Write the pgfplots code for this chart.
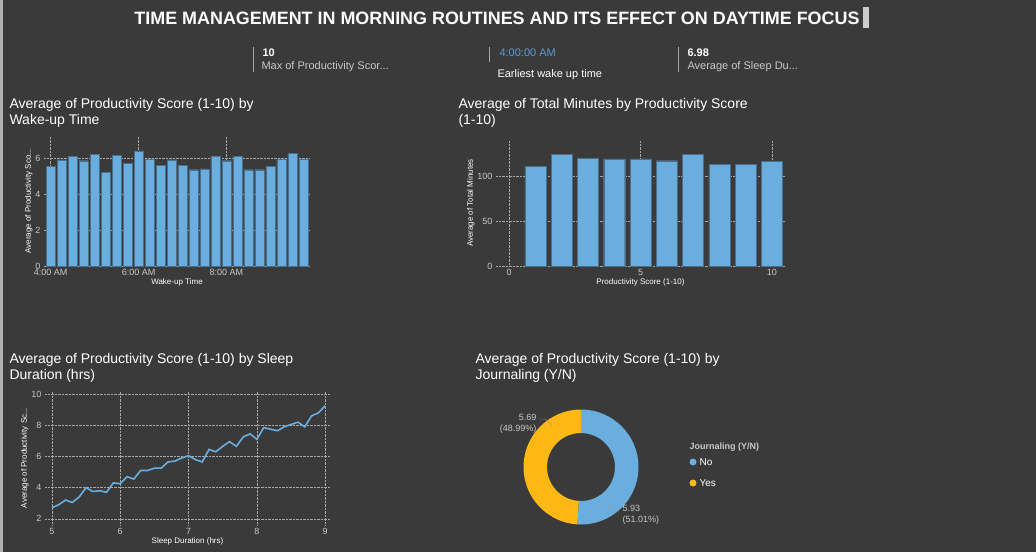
\documentclass[border=0pt]{standalone}
\usepackage{pgfplots}
\pgfplotsset{compat=1.18}
\usepackage{fontspec}
\setmainfont{Liberation Sans}
\definecolor{bg}{HTML}{3A3A3A}
\definecolor{barc}{HTML}{6AAEE0}
\definecolor{edge}{HTML}{4A6F8C}
\definecolor{yel}{HTML}{FDB813}
\definecolor{tick}{HTML}{C8C8C8}
\definecolor{kpi}{HTML}{5B9BD5}
\pgfplotsset{
 dash/.style={
  scale only axis, axis line style={draw=none}, major tick length=0pt,
  tick label style={font=\fontsize{9}{10}\selectfont, text=tick},
  label style={font=\fontsize{8}{9}\selectfont, text=white},
  grid style={densely dotted, draw=gray!70},
  /pgf/number format/assume math mode=true,
  anchor=south west,
 }
}
\begin{document}
\begin{tikzpicture}[x=1pt,y=1pt]
\fill[bg] (0,0) rectangle (1036,-552);
\fill[gray!60] (0,0) rectangle (3,-552);
% title
\node[text=white,font=\bfseries\fontsize{19}{22}\selectfont,anchor=center] at (497,-18) {\resizebox{725pt}{!}{TIME MANAGEMENT IN MORNING ROUTINES AND ITS EFFECT ON DAYTIME FOCUS}};
\fill[gray!40] (863,-7) rectangle (869,-28);
% KPIs
\draw[gray!70] (253,-47) -- (253,-72);
\draw[gray!70] (489,-47) -- (489,-62);
\draw[gray!70] (678,-47) -- (678,-72);
\node[anchor=west,text=white,font=\bfseries\fontsize{11}{12}\selectfont] at (259,-53) {10};
\node[anchor=west,text=tick,font=\fontsize{11}{12}\selectfont] at (258,-67) {Max of Productivity Scor...};
\node[anchor=west,text=kpi,font=\fontsize{11}{12}\selectfont] at (496,-53) {4:00:00 AM};
\node[anchor=west,text=white,font=\fontsize{11}{12}\selectfont] at (494,-75) {Earliest wake up time};
\node[anchor=west,text=white,font=\bfseries\fontsize{11}{12}\selectfont] at (684,-53) {6.98};
\node[anchor=west,text=tick,font=\fontsize{11}{12}\selectfont] at (684,-67) {Average of Sleep Du...};
% chart titles
\node[anchor=north west,text=white,align=left,font=\fontsize{14}{16}\selectfont] at (6,-95) {Average of Productivity Score (1-10) by\\Wake-up Time};
\node[anchor=north west,text=white,align=left,font=\fontsize{14}{16}\selectfont] at (455,-95) {Average of Total Minutes by Productivity Score\\(1-10)};
\node[anchor=north west,text=white,align=left,font=\fontsize{14}{16}\selectfont] at (6,-350) {Average of Productivity Score (1-10) by Sleep\\Duration (hrs)};
\node[anchor=north west,text=white,align=left,font=\fontsize{14}{16}\selectfont] at (472,-350) {Average of Productivity Score (1-10) by\\Journaling (Y/N)};
% chart 1
\begin{axis}[dash, at={(44pt,-266pt)}, width=266pt, height=129.6pt,
 xmin=-0.6, xmax=23.6, ymin=0, ymax=7.2,
 ytick={0,2,4,6}, xtick={0,8,16}, xticklabels={4:00 AM,6:00 AM,8:00 AM},
 ymajorgrids, xmajorgrids, xlabel={Wake-up Time}, ylabel={Average of Productivity Sco...},
 xlabel style={yshift=4pt}, ylabel style={yshift=-4pt}]
\addplot[ybar, bar width=9pt, fill=barc, draw=edge] coordinates {
(0,5.55)(1,5.9)(2,6.1)(3,5.85)(4,6.2)(5,5.2)(6,6.15)(7,5.7)(8,6.4)(9,5.95)(10,5.6)(11,5.9)
(12,5.6)(13,5.35)(14,5.4)(15,6.1)(16,5.85)(17,6.1)(18,5.35)(19,5.35)(20,5.55)(21,5.95)(22,6.25)(23,5.95)};
\end{axis}
% chart 2
\begin{axis}[dash, at={(496pt,-266pt)}, width=289pt, height=126pt,
 xmin=-0.5, xmax=10.5, ymin=0, ymax=140,
 ytick={0,50,100}, xtick={0,5,10},
 ymajorgrids, xmajorgrids, xlabel={Productivity Score (1-10)}, ylabel={Average of Total Minutes},
 xlabel style={yshift=4pt}, ylabel style={yshift=-4pt}]
\addplot[ybar, bar width=21pt, fill=barc, draw=edge] coordinates {
(1,111)(2,124)(3,120)(4,119)(5,119)(6,117)(7,124)(8,113)(9,113)(10,116)};
\end{axis}
% chart 3
\begin{axis}[dash, at={(45pt,-525pt)}, width=285pt, height=134pt,
 xmin=4.9, xmax=9.07, ymin=1.6, ymax=10.2,
 ytick={2,4,6,8,10}, xtick={5,6,7,8,9},
 ymajorgrids, xmajorgrids, xlabel={Sleep Duration (hrs)}, ylabel={Average of Productivity Sc...},
 xlabel style={yshift=4pt}, ylabel style={yshift=-4pt}]
\addplot[barc, line width=1.6pt] coordinates {
(5.0,2.7)(5.1,2.9)(5.2,3.2)(5.3,3.05)(5.4,3.4)(5.5,4.0)(5.6,3.75)(5.7,3.8)(5.8,3.7)(5.9,4.3)
(6.0,4.25)(6.1,4.7)(6.2,4.55)(6.3,5.1)(6.4,5.1)(6.5,5.25)(6.6,5.25)(6.7,5.65)(6.8,5.7)(6.9,5.9)
(7.0,6.05)(7.1,5.8)(7.2,5.65)(7.3,6.45)(7.4,6.3)(7.5,6.65)(7.6,6.95)(7.7,6.65)(7.8,7.25)(7.9,7.45)
(8.0,7.1)(8.1,7.85)(8.2,7.75)(8.3,7.65)(8.4,7.9)(8.5,8.05)(8.6,8.2)(8.7,7.9)(8.8,8.6)(8.9,8.8)(9.0,9.25)};
\end{axis}
% donut
\begin{axis}[hide axis, scale only axis, anchor=center, at={(581pt,-467pt)}, width=115pt, height=115pt,
 xmin=-1, xmax=1, ymin=-1, ymax=1]
\addplot[draw=none] coordinates {(-1,-1)(1,1)};
\fill[barc] ([shift={(90:57.5pt)}]axis cs:0,0) arc[start angle=90,end angle=-93.6,radius=57.5pt]
  -- ([shift={(-93.6:34pt)}]axis cs:0,0) arc[start angle=-93.6,end angle=90,radius=34pt] -- cycle;
\fill[yel] ([shift={(90:57.5pt)}]axis cs:0,0) arc[start angle=90,end angle=266.4,radius=57.5pt]
  -- ([shift={(266.4:34pt)}]axis cs:0,0) arc[start angle=266.4,end angle=90,radius=34pt] -- cycle;
\end{axis}
\draw[gray!80] (538,-419) -- (545,-419) -- (552,-425);
\draw[gray!80] (608,-505) -- (613,-510) -- (620,-510);
\node[anchor=east,text=tick,align=right,font=\fontsize{9}{11}\selectfont] at (540,-424) {5.69\\(48.99\%)};
\node[anchor=west,text=tick,align=left,font=\fontsize{9}{11}\selectfont] at (619,-515) {5.93\\(51.01\%)};
\node[anchor=west,text=tick,font=\bfseries\fontsize{9}{10}\selectfont] at (686,-447) {Journaling (Y/N)};
\fill[barc] (693,-462) circle (3.5);
\fill[yel] (693,-483) circle (3.5);
\node[anchor=west,text=white,font=\fontsize{10}{11}\selectfont] at (696,-462) {No};
\node[anchor=west,text=white,font=\fontsize{10}{11}\selectfont] at (696,-483) {Yes};
\end{tikzpicture}
\end{document}
